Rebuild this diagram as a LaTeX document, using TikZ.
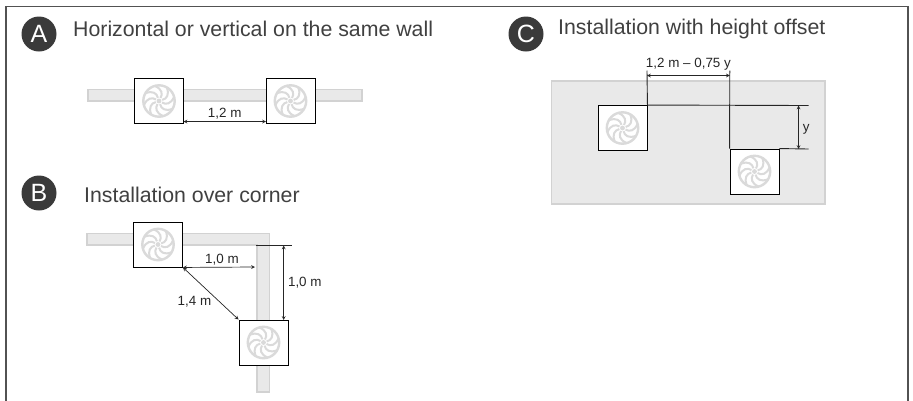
\documentclass[tikz,border=0pt]{standalone}
\usepackage{fontspec}
\usepackage{xcolor}
\setmainfont{Liberation Sans}
\usetikzlibrary{arrows,positioning}

\definecolor{wallgrey}{HTML}{E9E9E9}
\definecolor{wallline}{HTML}{D2D2D2}
\definecolor{fangrey}{HTML}{DADADA}
\definecolor{titlegrey}{HTML}{404040}
\definecolor{badgegrey}{HTML}{3A3A3A}

\tikzset{
    unit/.style={draw=black, fill=white, line width=0.9pt, minimum width=49, minimum height=45, inner sep=0pt},
    wall/.style={draw=wallline, fill=wallgrey, line width=1.8pt},
    dim/.style={<->, >=stealth, line width=0.7pt, black!85},
    guide/.style={line width=0.9pt, black!85},
    badge/.style={circle, fill=badgegrey, text=white, minimum size=35, inner sep=0pt, font=\fontsize{25}{25}\selectfont},
    title/.style={anchor=west, inner sep=0pt, text=titlegrey, font=\fontsize{21.3}{24}\selectfont},
    size/.style={inner sep=0pt, text=black!85, font=\fontsize{13.4}{16}\selectfont},
    fan/.pic={
        \draw[fangrey, line width=2.4pt] (0,0) circle (15.7);
        \fill[fangrey] (0,0) circle (2.4);
        \foreach \a in {0,45,...,350} {
            \draw[fangrey, line width=2pt, rotate=\a] (1.5,-3) .. controls (4,-7) and (3,-12) .. (-4,-15);
        }
    }
}

\begin{document}
\begin{tikzpicture}[x=1pt, y=-1pt]
    \useasboundingbox (0,0) rectangle (913,400);

    % Outer frame, open at the bottom
    \draw[line width=1.8pt, black!68] (6,402) -- (6,6.5) -- (908,6.5) -- (908,402);

    % Horizontal or vertical on the same wall
    \node[badge] (badgeA) at (39,34) {A};
    \node[title] (titleA) at (73,29) {Horizontal or vertical on the same wall};
    \draw[wall] (88,89.5) rectangle (362,101);
    \node[unit] (unitA1) at (159,101) {};
    \node[unit] (unitA2) at (290.5,101) {};
    \pic at (unitA1) {fan};
    \pic at (unitA2) {fan};
    \coordinate (dimA1) at (183.5,121.5);
    \coordinate (dimA2) at (266,121.5);
    \draw[dim] (dimA1) -- node[size, above=2pt] (sizeA) {1,2 m} (dimA2);

    % Installation over corner
    \node[badge] (badgeB) at (39,193) {B};
    \node[title] (titleB) at (84,195) {Installation over corner};
    \draw[wall] (87,233.5) -- (269.5,233.5) -- (269.5,392) -- (257,392) -- (257,245) -- (87,245) -- cycle;
    \node[unit] (unitB1) at (158,244.5) {};
    \node[unit] (unitB2) at (263.5,342.5) {};
    \pic at (unitB1) {fan};
    \pic at (unitB2) {fan};
    \coordinate (cornerL) at (256,245.5);
    \coordinate (cornerR) at (291.5,245.5);
    \coordinate (dimB1) at (255,267);
    \coordinate (dimB2) at (283.7,245.5);
    \coordinate (dimB3) at (283.7,320);
    \draw[guide] (cornerL) -- (cornerR);
    \draw[dim] (unitB1.south east) -- node[size, above=2pt, xshift=3pt] (sizeB1) {1,0 m} (dimB1);
    \draw[dim] (dimB2) -- node[size, right=4pt] (sizeB2) {1,0 m} (dimB3);
    \draw[dim] (unitB1.south east) -- (unitB2.north west);
    \node[size] (sizeB3) at (194.5,301.5) {1,4 m};

    % Installation with height offset
    \node[badge] (badgeC) at (526,34) {C};
    \node[title] (titleC) at (558,29) {Installation with height offset};
    \draw[wall] (551.5,81) rectangle (825,204);
    \node[unit] (unitC1) at (622.5,128) {};
    \node[unit] (unitC2) at (754.5,171.5) {};
    \pic at (unitC1) {fan};
    \pic at (unitC2) {fan};
    \coordinate (topC1) at (647,70.5);
    \coordinate (topC2) at (729.8,70.5);
    \coordinate (endC1) at (808.5,105.5);
    \coordinate (endC2) at (808.5,149);
    \coordinate (dimC1) at (647,75.5);
    \coordinate (dimC2) at (729.8,75.5);
    \coordinate (dimC3) at (798.5,105.5);
    \coordinate (dimC4) at (798.5,149);
    \draw[guide] (topC1) -- (unitC1.north east);
    \draw[guide] (topC2) -- (unitC2.north west);
    \draw[guide] (unitC1.north east) -- (endC1);
    \draw[guide] (unitC2.north east) -- (endC2);
    \draw[dim] (dimC1) -- node[size, above=4.5pt] (sizeC1) {1,2 m -- 0,75 y} (dimC2);
    \draw[dim] (dimC3) -- node[size, right=4pt, yshift=-2pt] (sizeC2) {y} (dimC4);
\end{tikzpicture}
\end{document}
